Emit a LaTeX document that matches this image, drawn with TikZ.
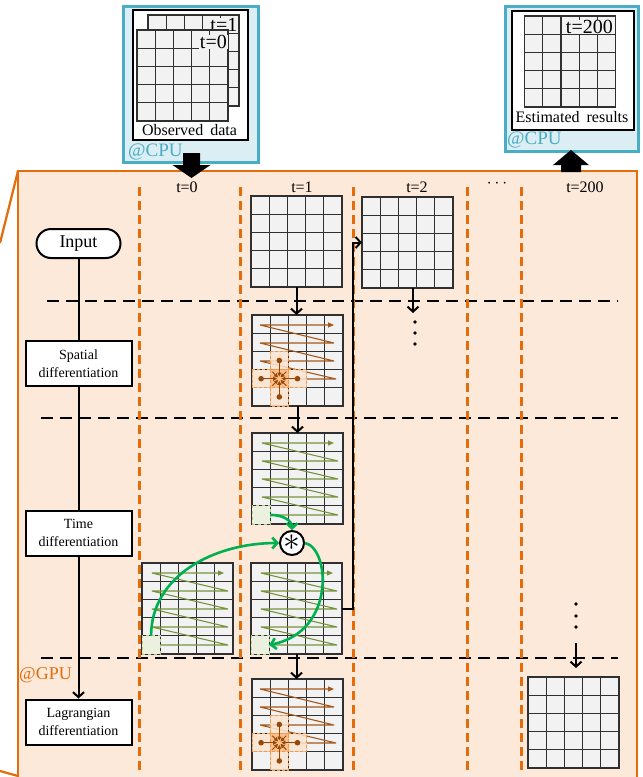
\documentclass[tikz,border=0pt]{standalone}
\usepackage{fontspec}
\usepackage{graphicx}
\setmainfont{Liberation Serif}
\usetikzlibrary{arrows.meta,calc}
\definecolor{peach}{HTML}{FDE9D9}
\definecolor{orng}{HTML}{E46C0A}
\definecolor{cpublue}{HTML}{DAEEF3}
\definecolor{cpuedge}{HTML}{4BACC6}
\definecolor{gridgray}{HTML}{F2F2F2}
\definecolor{gridline}{HTML}{303030}
\definecolor{olivegr}{HTML}{77933C}
\definecolor{zzbrown}{HTML}{A5581B}
\definecolor{arrgreen}{HTML}{00B050}
\definecolor{hlgreen}{HTML}{EBF1DE}
\definecolor{hledge}{HTML}{B7CC94}
\definecolor{crossfill}{HTML}{FAC090}
\definecolor{nbfill}{HTML}{FCE4D0}
\definecolor{nbedge}{HTML}{F79646}
\definecolor{dotbrown}{HTML}{974806}
\tikzset{
  gridbox/.style={fill=gridgray, draw=none, minimum width=91pt, minimum height=91pt, inner sep=0pt, outer sep=0pt, anchor=north west},
  gline/.style={draw=gridline, line width=1.2pt},
  zzline/.style={draw=#1, line width=1.1pt, line join=bevel, -{Triangle[length=6pt,width=5pt]}},
  hlcell/.style={fill=hlgreen, draw=hledge, dashed, line width=0.8pt, minimum size=18.2pt, inner sep=0pt, outer sep=0pt, anchor=north west},
  nbcell/.style={fill=nbfill, fill opacity=0.85, draw=nbedge, dash pattern=on 3pt off 2pt, line width=1pt},
  ctrcell/.style={fill=crossfill, draw=nbedge, dash pattern=on 3pt off 2pt, line width=1pt},
  smallarr/.style={draw=dotbrown, line width=1pt, -{Triangle[length=4pt,width=4pt]}},
  flowbox/.style={draw, line width=2pt, fill=white, minimum width=106pt, minimum height=45pt, align=center, font=\fontsize{14}{18}\selectfont, inner sep=1pt},
  flowline/.style={line width=2pt},
  barrow/.style={line width=2pt, -{Straight Barb[length=5pt,width=11pt]}},
  garrow/.style={draw=arrgreen, line width=2.6pt, -{Straight Barb[length=5pt,width=11pt]}},
  odash/.style={draw=orng, line width=3pt, dash pattern=on 9pt off 5pt},
  kdash/.style={draw=black, line width=2.5pt, dash pattern=on 12pt off 7pt},
  collabel/.style={font=\fontsize{16}{16}\selectfont, inner sep=1pt},
  cpubox/.style={fill=cpublue, draw=cpuedge, line width=2.5pt, inner sep=0pt, anchor=north west},
  whitebox/.style={fill=white, draw=black, line width=2pt, inner sep=0pt, anchor=north west},
  tlabel/.style={fill=gridgray, font=\fontsize{20}{20}\selectfont, text height=13pt, text depth=0pt, inner xsep=1pt, inner ysep=0.5pt, anchor=base east},
  cpulabel/.style={text=cpuedge, font=\fontsize{19}{19}\selectfont, inner sep=0pt, anchor=west},
  convnode/.style={circle, draw, line width=2pt, fill=white, minimum size=24pt, inner sep=0pt, font=\fontsize{24}{24}\selectfont},
}
\newcommand\mygrid[3]{%
  \node[gridbox] (#1) at (#2,#3) {};
  \foreach \k in {1,2,3,4}{%
    \draw[gline] ({#2+\k*18.2},#3) -- ({#2+\k*18.2},{#3+91});
    \draw[gline] (#2,{#3+\k*18.2}) -- ({#2+91},{#3+\k*18.2});
  }%
  \draw[gline] (#2,#3) rectangle ({#2+91},{#3+91});
}
\newcommand\zzgreen[2]{%
  \draw[zzline=olivegr] ({#1+10},{#2+82}) -- ({#1+86},{#2+82}) -- ({#1+10},{#2+64}) -- ({#1+86},{#2+64}) -- ({#1+10},{#2+46}) -- ({#1+86},{#2+46}) -- ({#1+10},{#2+28}) -- ({#1+86},{#2+28}) -- ({#1+10},{#2+10}) -- ({#1+82},{#2+10});
}
\newcommand\zzbrown[2]{%
  \draw[zzline=zzbrown] ({#1+8},{#2+64}) -- ({#1+84},{#2+64}) -- ({#1+8},{#2+46}) -- ({#1+82},{#2+46}) -- ({#1+8},{#2+28}) -- ({#1+82},{#2+28}) -- ({#1+8},{#2+10}) -- ({#1+82},{#2+10});
}
\newcommand\crossov[2]{%
  \foreach \dx/\dy in {1/2,1/4,0/3,2/3}{%
    \draw[nbcell] ({#1+\dx*18.2},{#2+\dy*18.2}) rectangle ++(18.2,18.2);
  }%
  \draw[ctrcell] ({#1+18.2},{#2+54.6}) rectangle ++(18.2,18.2);
  \foreach \ax/\ay in {0/-18.2,0/18.2,-18.2/0,18.2/0}{%
    \fill[dotbrown] ({#1+27.3+\ax},{#2+63.7+\ay}) circle (2.8pt);
    \draw[smallarr] ({#1+27.3+\ax},{#2+63.7+\ay}) -- ({#1+27.3+0.12*\ax},{#2+63.7+0.12*\ay});
  }%
  \foreach \ax/\ay in {-1/-1,1/-1,-1/1,1/1}{%
    \draw[smallarr] ({#1+27.3+7*\ax},{#2+63.7+7*\ay}) -- ({#1+27.3+1.2*\ax},{#2+63.7+1.2*\ay});
  }%
}
\begin{document}
\begin{tikzpicture}[x=1pt,y=-1pt]
\useasboundingbox (0,0) rectangle (643,777);
% GPU area
\fill[peach] (18,171) rectangle (637,781);
\draw[orng, line width=1.8pt] (18,781) -- (18,171) -- (637,171) -- (637,781);
\draw[orng, line width=2.2pt] (18,171) -- (0,243);
\draw[orng, line width=2.2pt] (0,771) -- (18,776);
% separators
\draw[kdash] (47,301) -- (618,301);
\draw[kdash] (41,418) -- (618,418);
\draw[kdash] (41,658) -- (618,658);
\foreach \xx in {139,240,353,467,521} \draw[odash] (\xx,187) -- (\xx,770);
% column labels
\node[collabel] (c0) at (187,187) {t=0};
\node[collabel] (c1) at (302,187) {t=1};
\node[collabel] (c2) at (417,187) {t=2};
\node[collabel] (cdots) at (497,184) {$\cdots$};
\node[collabel] (c200) at (585,187) {t=200};
\node[text=orng, font=\fontsize{18}{18}\selectfont, anchor=west, inner sep=0pt] (gpu) at (19,675) {@GPU};
% CPU left
\node[cpubox, minimum width=135pt, minimum height=156pt] (cpuL) at (122,5) {};
\node[whitebox, minimum width=115pt, minimum height=130pt] (obsL) at (132,9) {};
\mygrid{obsB}{148}{15}
\node[tlabel] (lt1) at (238.5,31) {t=1};
\mygrid{obsF}{137}{30}
\node[tlabel] (lt0) at (228,48) {t=0};
\node[font=\fontsize{16}{18}\selectfont, inner sep=0pt] (obstext) at (189.5,130) {Observed\hspace{3pt} data};
\node[cpulabel] (cpuLlab) at (128,152) {@CPU};
% CPU right
\node[cpubox, minimum width=133pt, minimum height=145pt] (cpuR) at (504,5) {};
\node[whitebox, minimum width=122pt, minimum height=119pt] (estR) at (511,10) {};
\mygrid{estG}{524.5}{16}
\node[tlabel] (lt200) at (614,33) {t=200};
\node[font=\fontsize{16}{18}\selectfont, inner sep=0pt] (esttext) at (572,117) {Estimated\hspace{3pt} results};
\node[cpulabel] (cpuRlab) at (507,140) {@CPU};
% transfer arrows
\fill (183,153) -- (200,153) -- (200,165) -- (210.5,165) -- (191.5,178) -- (172.5,165) -- (183,165) -- cycle;
\fill (561,172) -- (581,172) -- (581,165) -- (589,165) -- (571,150) -- (553,165) -- (561,165) -- cycle;
% flowchart
\node[draw, line width=2pt, fill=white, rounded corners=14.5pt, minimum width=84pt, minimum height=29pt, font=\fontsize{18}{18}\selectfont, inner sep=0pt] (input) at (78.5,243.5) {Input};
\node[flowbox] (spatial) at (78.5,363.5) {Spatial\\differentiation};
\node[flowbox] (timed) at (78.5,533) {Time\\differentiation};
\node[flowbox] (lagr) at (78.5,722) {Lagrangian\\differentiation};
\draw[flowline] (input) -- (spatial);
\draw[flowline] (spatial) -- (timed);
\draw[barrow] (timed) -- (lagr);
% grids
\mygrid{gA}{251}{196}
\mygrid{gB}{362}{197}
\mygrid{gS}{252}{315}
\zzbrown{252}{315}
\crossov{252}{315}
\mygrid{gT}{252}{433}
\zzgreen{252}{433}
\node[hlcell] (hlA) at (252,505.8) {};
\mygrid{gP}{142}{563}
\zzgreen{142}{563}
\node[hlcell] (hlB) at (142,635.8) {};
\mygrid{gL}{251}{563}
\zzgreen{251}{563}
\node[hlcell] (hlC) at (251,635.8) {};
\mygrid{gG}{252}{679}
\zzbrown{252}{679}
\crossov{252}{679}
\mygrid{gE}{528}{677}
% connectors
\draw[barrow] (gA.south) -- (gA.south |- gS.north);
\coordinate (d2top) at (413,313);
\draw[barrow] (gB.south -| d2top) -- (d2top);
\foreach \yy in {322,333,344} \fill (415,\yy) circle (1.8pt);
\foreach \yy in {604,616,627} \fill (576,\yy) circle (1.8pt);
\coordinate (d200a) at (576,643);
\coordinate (d200b) at (576,668);
\draw[barrow] (d200a) -- (d200b);
\draw[barrow] (gS.south) -- (gS.south |- gT.north);
\draw[barrow] (gL.south) -- (gL.south |- gG.north);
\coordinate (turn) at (353,242.5);
\draw[barrow] (gL.east) -| (turn) -- (gB.west);
% convolution
\node[convnode] (conv) at (292,543) {\scalebox{1.35}{$\ast$}};
\draw[garrow] (hlA.east) .. controls +(12,0) and +(0,-10) .. (conv.north);
\draw[garrow] (hlB.north) .. controls +(0,-60) and +(-65,0) .. (conv.west);
\draw[garrow] (conv.east) .. controls +(25,5) and +(67,-13) .. (hlC.east);
\end{tikzpicture}
\end{document}
